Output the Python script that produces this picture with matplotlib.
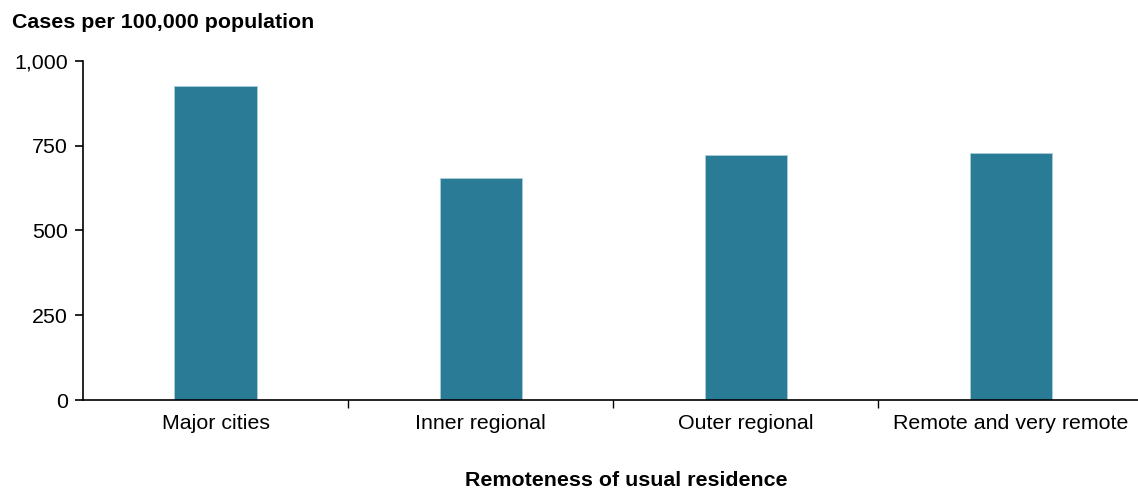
import matplotlib
matplotlib.use('Agg')
import matplotlib.pyplot as plt
from matplotlib.ticker import FuncFormatter

plt.rcParams['font.family'] = ['Liberation Sans', 'DejaVu Sans']

categories = ['Major cities', 'Inner regional', 'Outer regional', 'Remote and very remote']
rates = [926, 656, 724, 730]
y_ticks = [0, 250, 500, 750, 1000]

FS = 15.4

fig = plt.figure(figsize=(11.38, 4.94), dpi=100)
ax = fig.add_axes([83 / 1138, 1 - 400 / 494, 1 - 83 / 1138, (400 - 61) / 494])

x = range(len(categories))
ax.bar(x, rates, width=0.31, color='#2A7C96', edgecolor='#A9CCD8', linewidth=0.6)

ax.set_xlim(-0.5, 3.48)
ax.set_ylim(0, 1000)
ax.set_yticks(y_ticks)
ax.yaxis.set_major_formatter(FuncFormatter(lambda v, p: f'{int(v):,}'))
ax.tick_params(axis='y', labelsize=FS, length=6, width=1.2, pad=5)

# category labels centred, ticks on the boundaries
ax.set_xticks([0.5, 1.5, 2.5])
ax.set_xticklabels([])
ax.set_xticks(list(x), minor=True)
ax.set_xticklabels(categories, minor=True)
ax.tick_params(axis='x', which='major', length=6, width=1)
ax.tick_params(axis='x', which='minor', length=0, labelsize=FS, pad=10)

for s in ['top', 'right']:
    ax.spines[s].set_visible(False)
ax.spines['left'].set_linewidth(1.2)
ax.spines['bottom'].set_linewidth(1.2)

fig.text(12 / 1138, 1 - 23 / 494, 'Cases per 100,000 population', fontsize=FS,
         fontweight='bold', va='center', ha='left')
fig.text(626 / 1138, 1 - 480 / 494, 'Remoteness of usual residence', fontsize=FS,
         fontweight='bold', va='center', ha='center')

fig.savefig('out.png', dpi=100)
